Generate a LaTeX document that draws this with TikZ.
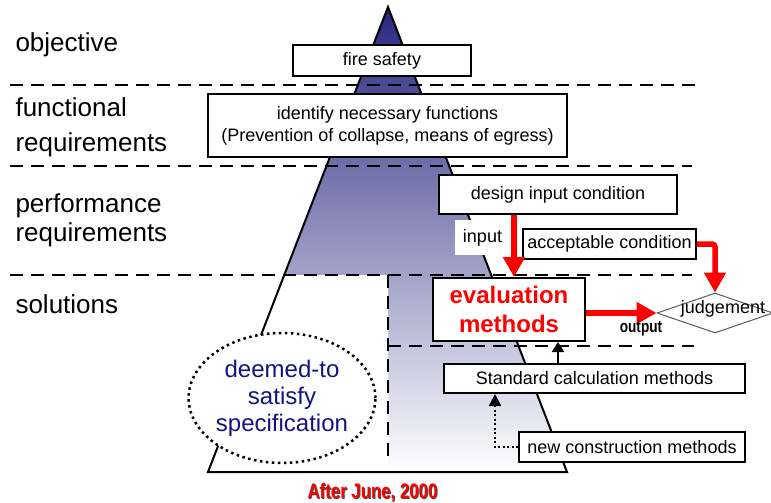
\documentclass[tikz,border=0pt]{standalone}
\usepackage{fontspec}
\setmainfont{Liberation Sans}
\newfontfamily\narrowfont[FakeStretch=0.8]{Liberation Sans}
\usepackage{tikz}
\usetikzlibrary{arrows.meta, positioning, calc, shapes.geometric}
\usepackage{xcolor}
\definecolor{pyrnavy}{RGB}{38,38,128}
\definecolor{pyrmid}{RGB}{180,180,205}
\definecolor{dtsblue}{RGB}{20,20,130}
\definecolor{judgegray}{RGB}{90,90,90}

\tikzset{
  levelname/.style={anchor=west, align=left, font=\fontsize{26}{30}\selectfont},
  levelbox/.style={draw, line width=2pt, fill=white, inner sep=0pt,
    align=center, font=\fontsize{18}{22}\selectfont},
  sepline/.style={line width=2.5pt, dash pattern=on 13pt off 8pt},
  redarrow/.style={draw=red, line width=5.5pt,
    -{Triangle[length=20pt,width=21pt]}},
  blackarrow/.style={line width=2pt, -{Triangle[length=10pt,width=12pt]}}
}

\begin{document}
\begin{tikzpicture}[x=1pt, y=-1pt]
  \useasboundingbox (0,0) rectangle (771,503);

  % Pyramid
  \shade[top color=pyrnavy, middle color=pyrmid, bottom color=white]
    (388,7) -- (567,472) -- (208,472) -- cycle;
  \fill[white] (284.3,275) -- (388,275) -- (388,472) -- (208,472) -- cycle;
  \draw[line width=2pt] (388,7) -- (567,472) -- (208,472) -- cycle;

  % Levels
  \draw[sepline] (10,85) -- (697,85);
  \draw[sepline] (10,166) -- (692,166);
  \draw[sepline] (10,275) -- (692,275);
  \draw[sepline] (388,275) -- (388,460);
  \draw[sepline] (388,346) -- (694,346);

  \node[levelname] (objective) at (12,45) {objective};
  \node[levelname, font=\fontsize{26}{35}\selectfont] (functional) at (12,127)
    {functional\\requirements};
  \node[levelname, font=\fontsize{26}{29}\selectfont] (performance) at (12,220)
    {performance\\requirements};
  \node[levelname] (solutions) at (12,304) {solutions};

  % Boxes
  \node[levelbox, minimum width=178pt, minimum height=31pt] (fire)
    at (382,60.5) {fire safety};
  \node[levelbox, minimum width=359pt, minimum height=63pt] (identify)
    at (387.5,125.5) {identify necessary functions\\(Prevention of collapse, means of egress)};
  \node[levelbox, minimum width=238pt, minimum height=39pt] (design)
    at (558,194.5) {design input condition};
  \node[levelbox, minimum width=173pt, minimum height=30pt] (acceptable)
    at (609.5,244) {acceptable condition};
  \node[fill=white, inner sep=0pt, minimum width=55pt, minimum height=35pt,
    font=\fontsize{18}{22}\selectfont] (input) at (482.5,237.5) {input};
  \node[levelbox, minimum width=152pt, minimum height=63pt, text=red,
    font=\fontsize{24}{29}\selectfont\bfseries] (eval)
    at (509,309.5) {evaluation\\methods};
  \node[levelbox, minimum width=301pt, minimum height=29pt] (standard)
    at (594.5,378.5) {Standard calculation methods};
  \node[levelbox, minimum width=226pt, minimum height=30pt] (newcons)
    at (632,447) {new construction methods};
  \node[diamond, draw=judgegray, line width=1pt, fill=white, inner sep=0pt,
    minimum width=116pt, minimum height=40pt] (judge) at (715,313) {};
  \node[font=\fontsize{18}{22}\selectfont] (judgetext) at (723,309) {judgement};

  % Deemed-to-satisfy
  \node[ellipse, draw, fill=white, line width=2.5pt,
    dash pattern=on 2.5pt off 3.5pt, inner sep=0pt,
    minimum width=186pt, minimum height=130pt, align=center, text=dtsblue,
    font=\fontsize{24}{27}\selectfont] (dts) at (282,398)
    {deemed-to\\satisfy\\specification};

  % Flow
  \draw[redarrow] ([xshift=-44pt]design.south)
    -- ([xshift=-44pt]design.south |- eval.north);
  \draw[redarrow, rounded corners=3pt] (acceptable.east) -| (judge.north);
  \draw[redarrow] (eval.east |- judge.west) -- node[pos=0.78, below=2pt,
    text=black, font=\narrowfont\fontsize{17}{20}\selectfont\bfseries]
    (output) {output} (judge.west);
  \draw[blackarrow] ([xshift=-36.5pt]standard.north)
    -- ([xshift=-36.5pt]standard.north |- eval.south);
  \draw[line width=2.5pt, dash pattern=on 2pt off 2.5pt,
    -{Triangle[length=12pt,width=12pt]}]
    (newcons.west) -| ([xshift=-99.5pt]standard.south);

  % Date
  \node[text=black!70, font=\narrowfont\fontsize{21}{24}\selectfont\bfseries]
    (datebg) at (373.5,493.5) {After June, 2000};
  \node[text=red, font=\narrowfont\fontsize{21}{24}\selectfont\bfseries]
    (date) at (372.5,492.5) {After June, 2000};
\end{tikzpicture}
\end{document}
